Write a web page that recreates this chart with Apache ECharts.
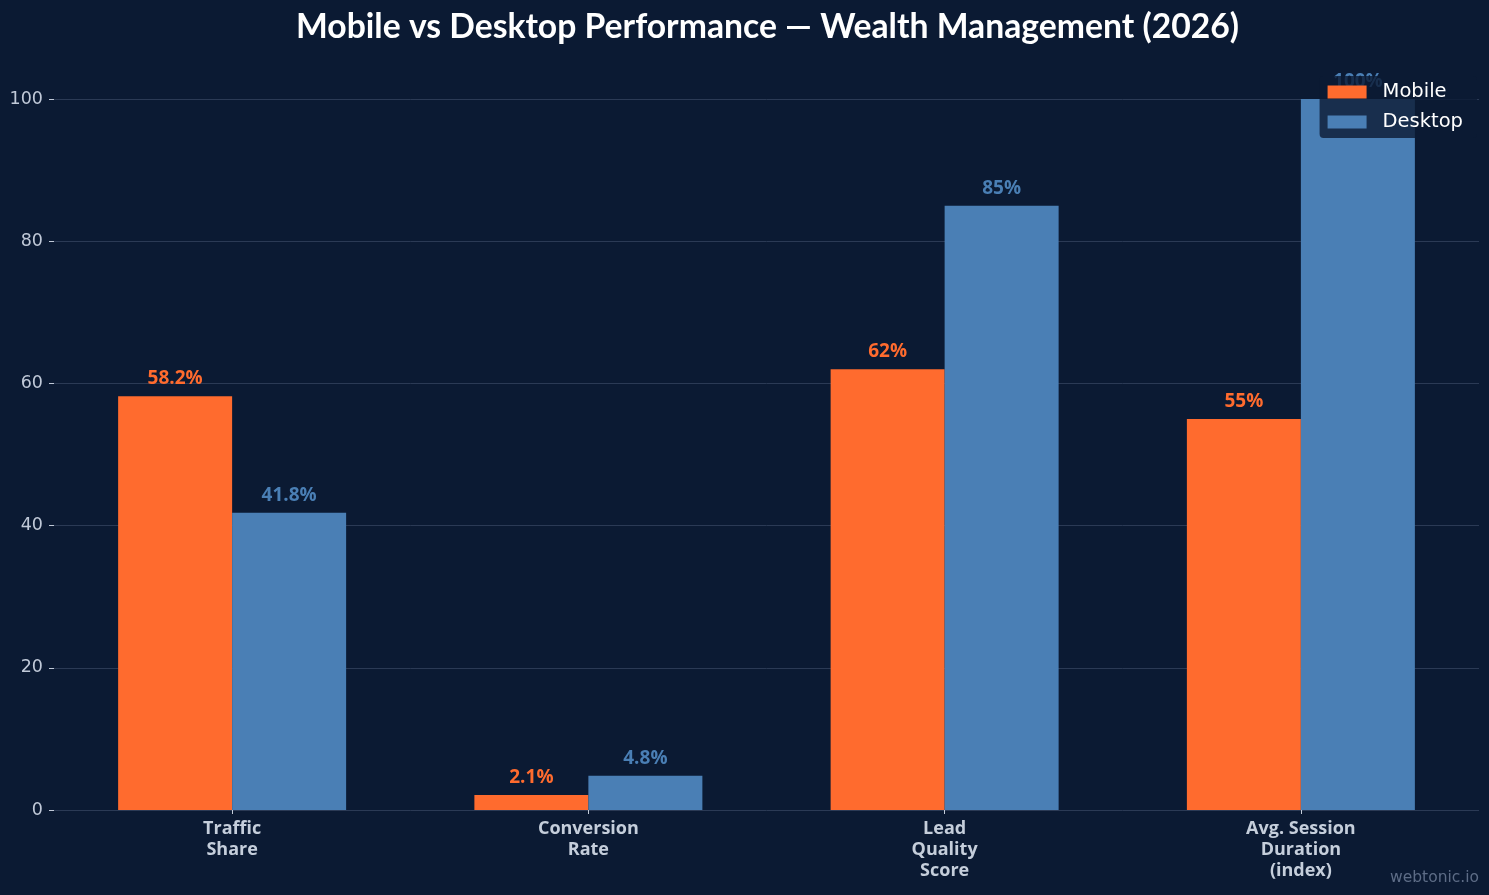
<!DOCTYPE html>
<html>
<head>
<meta charset="utf-8">
<script src="https://cdn.jsdelivr.net/npm/echarts@6/dist/echarts.min.js"></script>
<style>
  html, body { margin: 0; padding: 0; background: #0b1a33; }
  #chart { width: 1489px; height: 895px; }
</style>
</head>
<body>
<div id="chart"></div>
<script>
// 数据
var categories = ['Traffic\nShare', 'Conversion\nRate', 'Lead\nQuality\nScore', 'Avg. Session\nDuration\n(index)'];
var mobileValues = [58.2, 2.1, 62, 55];
var desktopValues = [41.8, 4.8, 85, 100];
var yTicks = [0, 20, 40, 60, 80, 100];

var mobileColor = '#ff6b2e';
var desktopColor = '#4a7fb5';

var myChart = echarts.init(document.getElementById('chart'));

function labelFor(color) {
	return {
		show: true,
		position: 'top',
		distance: 8,
		formatter: '{c}%',
		color: color,
		fontSize: 19,
		fontWeight: 'bold',
		fontFamily: 'Open Sans'
	};
}

var option = {
	backgroundColor: '#0b1a33',
	animation: false,
	title: {
		text: 'Mobile vs Desktop Performance \u2014 Wealth Management (2026)',
		// 标题居中于绘图区，而不是整个画布
		left: 291,
		top: 5,
		textStyle: {
			color: '#ffffff',
			fontFamily: 'Lato',
			fontWeight: 'bold',
			fontSize: 33.7
		}
	},
	legend: {
		data: ['Mobile', 'Desktop'],
		orient: 'vertical',
		right: 12,
		top: 76,
		z: 10,
		padding: [6, 14, 6, 8],
		itemWidth: 39,
		itemHeight: 13,
		itemGap: 10,
		icon: 'rect',
		backgroundColor: 'rgba(11,26,51,0.8)',
		borderRadius: 4,
		textStyle: {
			color: '#ffffff',
			fontSize: 19.5,
			fontFamily: 'DejaVu Sans',
			padding: [0, 0, 0, 11]
		}
	},
	grid: {
		left: 54,
		right: 10,
		top: 99,
		bottom: 85
	},
	xAxis: {
		type: 'category',
		data: categories,
		axisLine: { show: false },
		axisTick: {
			show: true,
			alignWithLabel: true,
			length: 4,
			lineStyle: { color: '#c5cedb' }
		},
		axisLabel: {
			margin: 8,
			color: '#c5cedb',
			fontSize: 18,
			fontWeight: 'bold',
			fontFamily: 'Open Sans',
			lineHeight: 21
		}
	},
	yAxis: {
		type: 'value',
		min: yTicks[0],
		max: yTicks[yTicks.length - 1],
		interval: 20,
		axisLine: { show: false },
		axisTick: {
			show: true,
			length: 5,
			lineStyle: { color: '#c0c9d8' }
		},
		axisLabel: {
			margin: 11,
			color: '#c0c9d8',
			fontSize: 17.5,
			fontFamily: 'DejaVu Sans'
		},
		splitLine: {
			lineStyle: { color: '#2b3a55', width: 1 }
		}
	},
	series: [
		{
			name: 'Mobile',
			type: 'bar',
			data: mobileValues,
			barWidth: 114,
			barGap: '0%',
			itemStyle: { color: mobileColor },
			label: labelFor(mobileColor)
		},
		{
			name: 'Desktop',
			type: 'bar',
			data: desktopValues,
			barWidth: 114,
			barGap: '0%',
			itemStyle: { color: desktopColor },
			label: labelFor(desktopColor)
		}
	],
	graphic: [{
		type: 'text',
		right: 10,
		bottom: 9,
		style: {
			text: 'webtonic.io',
			fill: '#5d6c86',
			fontSize: 15.5,
			fontFamily: 'DejaVu Sans'
		}
	}]
};
myChart.setOption(option);
</script>
</body>
</html>
